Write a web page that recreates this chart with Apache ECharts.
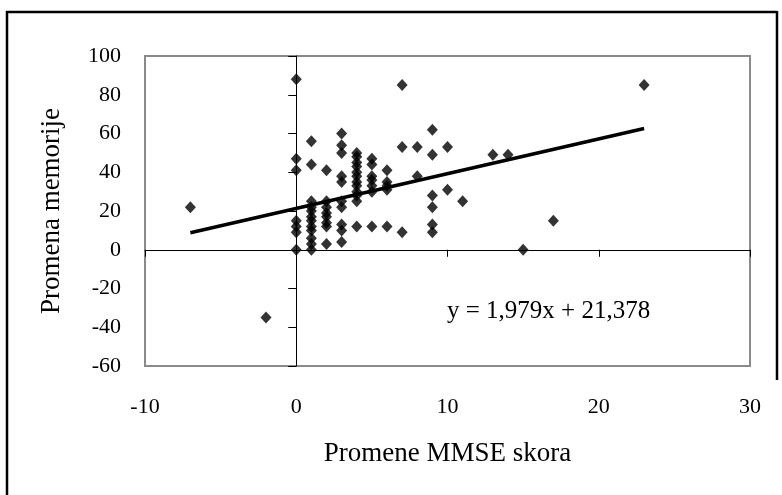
<!DOCTYPE html>
<html>
<head>
<meta charset="utf-8">
<script src="https://cdn.jsdelivr.net/npm/echarts@6/dist/echarts.min.js"></script>
<style>
html,body{margin:0;padding:0;background:#fff;}
#chart{width:782px;height:495px;}
</style>
</head>
<body>
<div id="chart"></div>
<script>
// Data
var mmseChange = [
  -7, -2,
  0, 0, 0, 0, 0, 0, 0,
  1, 1, 1, 1, 1, 1, 1, 1, 1, 1, 1, 1,
  2, 2, 2, 2, 2, 2, 2, 2,
  3, 3, 3, 3, 3, 3, 3, 3, 3, 3,
  4, 4, 4, 4, 4, 4, 4, 4, 4, 4, 4, 4,
  5, 5, 5, 5, 5, 5, 5,
  6, 6, 6, 6, 6,
  7, 7, 7,
  8, 8,
  9, 9, 9, 9, 9, 9,
  10, 10,
  11, 13, 14, 15, 17, 23
];
var memoryChange = [
  22, -35,
  88, 47, 41, 15, 12, 9, 0,
  56, 44, 25, 22, 20, 17, 15, 12, 10, 6, 3, 0,
  41, 25, 22, 19, 17, 14, 12, 3,
  60, 54, 50, 38, 35, 25, 22, 13, 10, 4,
  50, 48, 45, 43, 40, 38, 35, 33, 30, 28, 25, 12,
  47, 44, 38, 36, 33, 30, 12,
  41, 35, 33, 31, 12,
  85, 53, 9,
  53, 38,
  62, 49, 28, 22, 13, 9,
  53, 31,
  25, 49, 49, 0, 15, 85
];
// Trend line end points as drawn in the picture
var trendX = [-7, 23];
var trendY = [8.8, 62.6];
var equationText = 'y = 1,979x + 21,378';
var xTitle = 'Promene MMSE skora';
var yTitle = 'Promena memorije';

var points = mmseChange.map(function (x, i) { return [x, memoryChange[i]]; });
var trend = trendX.map(function (x, i) { return [x, trendY[i]]; });

var FONT = '"Liberation Serif", "Times New Roman", serif';
var chart = echarts.init(document.getElementById('chart'));
chart.setOption({
  animation: false,
  backgroundColor: '#fff',
  grid: {
    left: 145, right: 32, top: 56, bottom: 129,
    show: true, borderColor: '#8a8a8a', borderWidth: 2, backgroundColor: 'transparent'
  },
  xAxis: [
    {
      type: 'value', min: -10, max: 30, interval: 10, position: 'bottom',
      axisLine: { show: false, onZero: false }, axisTick: { show: false },
      splitLine: { show: false },
      axisLabel: { margin: 30, color: '#000', fontFamily: FONT, fontSize: 22 },
      name: xTitle, nameLocation: 'middle', nameGap: 74,
      nameTextStyle: { color: '#000', fontFamily: FONT, fontSize: 27 }
    },
    {
      type: 'value', min: -10, max: 30, interval: 10, position: 'bottom',
      axisLine: { show: true, onZero: true, lineStyle: { color: '#000', width: 1 } },
      axisTick: { show: true, length: 7, lineStyle: { color: '#000', width: 1 } },
      axisLabel: { show: false }, splitLine: { show: false }
    }
  ],
  yAxis: [
    {
      type: 'value', min: -60, max: 100, interval: 20, position: 'left',
      axisLine: { show: false, onZero: false }, axisTick: { show: false },
      splitLine: { show: false },
      axisLabel: { margin: 24, color: '#000', fontFamily: FONT, fontSize: 22 },
      name: yTitle, nameLocation: 'middle', nameGap: 80, nameRotate: 90,
      nameTextStyle: { color: '#000', fontFamily: FONT, fontSize: 27 }
    },
    {
      type: 'value', min: -60, max: 100, interval: 20, position: 'left',
      axisLine: { show: true, onZero: true, lineStyle: { color: '#000', width: 1 } },
      axisTick: { show: true, length: 8, lineStyle: { color: '#000', width: 1 } },
      axisLabel: { show: false }, splitLine: { show: false }
    }
  ],
  series: [
    {
      type: 'scatter', xAxisIndex: 0, yAxisIndex: 0,
      data: points, symbol: 'diamond', symbolSize: [11, 12],
      itemStyle: { color: '#000' }, z: 3
    },
    {
      type: 'line', xAxisIndex: 0, yAxisIndex: 0,
      data: trend, symbol: 'none',
      lineStyle: { color: '#000', width: 3.5 }, z: 4
    }
  ],
  graphic: [
    { type: 'text', left: 447, top: 299,
      style: { text: equationText, fill: '#000', font: '25px ' + FONT } },
    { type: 'line', shape: { x1: 7, y1: 11, x2: 7, y2: 495 }, style: { stroke: '#000', lineWidth: 2.5 } },
    { type: 'line', shape: { x1: 6, y1: 12, x2: 777, y2: 12 }, style: { stroke: '#000', lineWidth: 2.5 } },
    { type: 'line', shape: { x1: 777, y1: 11, x2: 777, y2: 380 }, style: { stroke: '#000', lineWidth: 2.5 } }
  ]
});
</script>
</body>
</html>
